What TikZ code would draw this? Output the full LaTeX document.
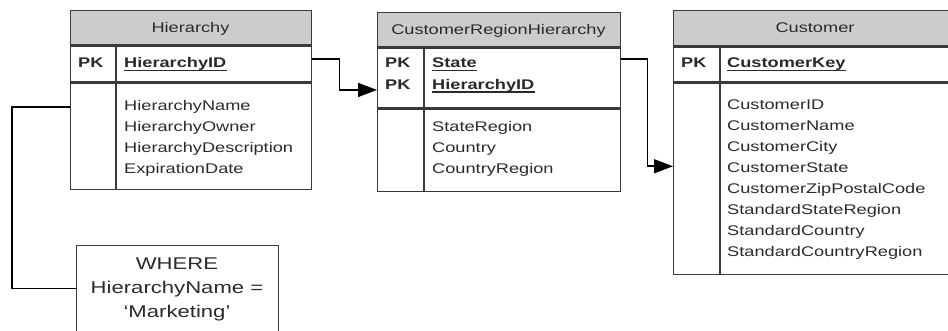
\documentclass[tikz,border=0pt]{standalone}
\usepackage{fontspec}
\setmainfont{Liberation Sans}[FakeStretch=1.3]
\usetikzlibrary{arrows.meta}
\definecolor{hdr}{HTML}{CCCCCC}
\definecolor{edge}{HTML}{3A3A3A}
\definecolor{txt}{HTML}{2A2A2A}
\begin{document}
\begin{tikzpicture}[x=1pt,y=-1pt,
  box/.style={draw=edge, line width=1.3pt, inner sep=0pt, anchor=north west},
  hdrbox/.style={box, fill=hdr},
  divider/.style={draw=edge, line width=1.3pt},
  lbl/.style={anchor=base west, inner sep=0pt, text=txt, font=\fontsize{14}{21}\selectfont},
  ttl/.style={anchor=base, inner sep=0pt, text=txt, font=\fontsize{14}{21}\selectfont},
  keylbl/.style={lbl, font=\fontsize{14}{21}\selectfont\bfseries},
  uline/.style={draw=txt, line width=1.2pt},
  whr/.style={anchor=base, inner sep=0pt, text=txt, font=\fontsize{17}{24}\selectfont},
  link/.style={draw=black, line width=1.6pt},
  tip/.style={-{Triangle[length=19pt,width=14pt]}}
]
\useasboundingbox (0,0) rectangle (948,331);
\clip (0,0) rectangle (948,331);

% ---------- Hierarchy ----------
\node[hdrbox, minimum width=241pt, minimum height=34pt] (hHead) at (70,10) {};
\node[box, minimum width=241pt, minimum height=36pt] (hKey) at (hHead.south west) {};
\node[box, minimum width=241pt, minimum height=106pt] (hBody) at (hKey.south west) {};
\draw[divider] ([xshift=46pt]hKey.north west) -- ([xshift=46pt]hBody.south west);
\node[ttl] (hTitle) at (190.5,32.5) {Hierarchy};
\node[keylbl] (hPK) at (78,68) {PK};
\node[keylbl] (hID) at (124,68) {HierarchyID};
\draw[uline] ([yshift=-2.5pt]hID.base west) -- ([yshift=-2.5pt]hID.base east);
\foreach \t [count=\i from 0] in {HierarchyName,HierarchyOwner,HierarchyDescription,ExpirationDate}
  \node[lbl] (hF\i) at (124,111+21*\i) {\t};

% ---------- CustomerRegionHierarchy ----------
\node[hdrbox, minimum width=243pt, minimum height=34pt] (rHead) at (377,12) {};
\node[box, minimum width=243pt, minimum height=60pt] (rKey) at (rHead.south west) {};
\node[box, minimum width=243pt, minimum height=82pt] (rBody) at (rKey.south west) {};
\draw[divider] ([xshift=47pt]rKey.north west) -- ([xshift=47pt]rBody.south west);
\node[ttl] (rTitle) at (498.5,34.5) {CustomerRegionHierarchy};
\node[keylbl] (rPK1) at (385,68) {PK};
\node[keylbl] (rPK2) at (385,89.5) {PK};
\node[keylbl] (rState) at (432,68) {State};
\node[keylbl] (rID) at (432,89.5) {HierarchyID};
\draw[uline] ([yshift=-2.5pt]rState.base west) -- ([yshift=-2.5pt]rState.base east);
\draw[uline] ([yshift=-2.5pt]rID.base west) -- ([yshift=-2.5pt]rID.base east);
\foreach \t [count=\i from 0] in {StateRegion,Country,CountryRegion}
  \node[lbl] (rF\i) at (432,132+21*\i) {\t};

% ---------- Customer ----------
\node[hdrbox, minimum width=284pt, minimum height=35pt] (cHead) at (673,10) {};
\node[box, minimum width=284pt, minimum height=35pt] (cKey) at (cHead.south west) {};
\node[box, minimum width=284pt, minimum height=191pt] (cBody) at (cKey.south west) {};
\draw[divider] ([xshift=47pt]cKey.north west) -- ([xshift=47pt]cBody.south west);
\node[ttl] (cTitle) at (815,33) {Customer};
\node[keylbl] (cPK) at (681,68) {PK};
\node[keylbl] (cKeyName) at (727,68) {CustomerKey};
\draw[uline] ([yshift=-2.5pt]cKeyName.base west) -- ([yshift=-2.5pt]cKeyName.base east);
\foreach \t [count=\i from 0] in {CustomerID,CustomerName,CustomerCity,CustomerState,CustomerZipPostalCode,StandardStateRegion,StandardCountry,StandardCountryRegion}
  \node[lbl] (cF\i) at (727,110+21*\i) {\t};

% ---------- WHERE box ----------
\node[box, minimum width=202pt, minimum height=100pt] (where) at (76,245) {};
\node[whr] (w1) at (177,269.5) {WHERE};
\node[whr] (w2) at (177,293.5) {HierarchyName =};
\node[whr] (w3) at (177,317) {‘Marketing’};

% ---------- connectors ----------
\draw[link, tip] ([yshift=5pt]hKey.east) -- ++(27,0) |- ([yshift=-12pt]rKey.west);
\draw[link, tip] ([yshift=19pt]rKey.east) -- ++(26,0) |- ([yshift=12.5pt]cBody.west);
\draw[link] ([yshift=29pt]hBody.west) -- ++(-58,0) |- ([yshift=7pt]where.west);
\end{tikzpicture}
\end{document}
